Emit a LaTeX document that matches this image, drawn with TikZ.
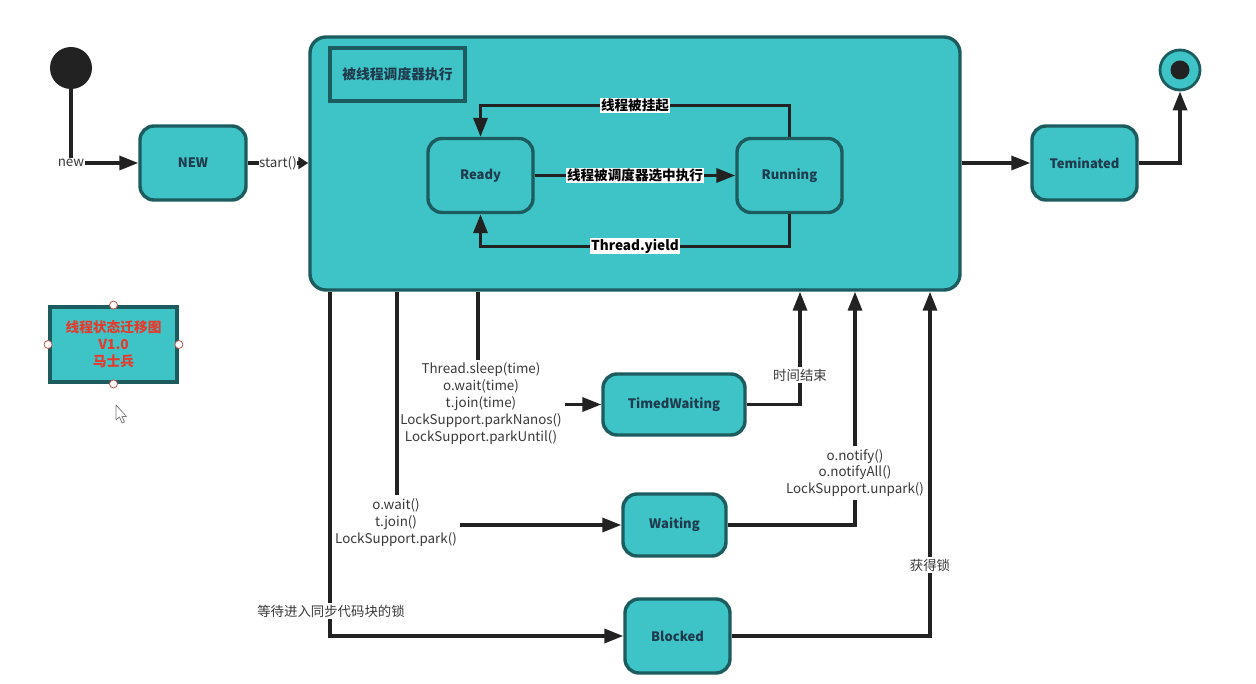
\documentclass[tikz,border=0pt]{standalone}
\usepackage{fontspec}
\setmainfont{Noto Sans CJK SC}
\usetikzlibrary{arrows.meta,calc}
\definecolor{teal1}{HTML}{3EC3C6}
\definecolor{tealb}{HTML}{1C5C5E}
\definecolor{ink}{HTML}{222222}
\definecolor{ntext}{HTML}{1E3A4C}
\definecolor{codec}{HTML}{3A3A3A}
\definecolor{legred}{HTML}{E63A2C}
\begin{document}
\begin{tikzpicture}[x=1pt,y=-1pt,
  state/.style={draw=tealb, fill=teal1, line width=3.4pt, rounded corners=14pt, text=ntext,
    font=\bfseries\fontsize{13}{15}\selectfont, minimum width=105pt, minimum height=74pt, inner sep=0pt},
  ln/.style={line width=3.3pt, draw=ink},
  arr/.style={line width=3.3pt, draw=ink, -{Triangle[length=19pt,width=14pt]}},
  lab/.style={fill=white, font=\bfseries\fontsize{13.6}{15}\selectfont, text=black, inner sep=1pt},
  code/.style={fill=white, font=\fontsize{13.4}{16.8}\selectfont, text=codec, align=center, inner sep=3pt}]
\useasboundingbox (0,0) rectangle (1256,684);
\fill[white] (0,0) rectangle (1256,684);

% start / end
\node[circle, fill=ink, minimum size=42pt, inner sep=0pt] (start) at (71,68) {};
\node[circle, draw=tealb, fill=teal1, line width=2.8pt, minimum size=40pt, inner sep=0pt] (end) at (1180,70) {};
\node[circle, fill=ink, minimum size=19pt, inner sep=0pt] (endin) at (1180,70) {};

% main nodes
\node[state, minimum width=106pt] (new) at (193,163) {NEW};
\node[draw=tealb, fill=teal1, line width=3.4pt, rounded corners=16pt, minimum width=650pt, minimum height=253pt] (big) at (635,163.5) {};
\node[draw=tealb, line width=3.4pt, minimum width=135pt, minimum height=53pt, text=ntext,
  font=\bfseries\fontsize{13.8}{15}\selectfont] (title) at (397.5,74.5) {被线程调度器执行};
\node[state] (ready) at (480.5,175.5) {Ready};
\node[state] (running) at (789.5,175.5) {Running};
\node[state] (term) at (1084.5,163) {Teminated};
\node[state, minimum width=142pt, minimum height=61pt] (tw) at (674,404.5) {TimedWaiting};
\node[state, minimum width=103pt, minimum height=62pt] (wt) at (674.5,525) {Waiting};
\node[state] (bl) at (677.5,636) {Blocked};

% legend
\node[draw=tealb, fill=teal1, line width=3.8pt, minimum width=127pt, minimum height=75pt, align=center,
  text=legred, font=\bfseries\fontsize{13.7}{17}\selectfont] (legend) at (113.5,344.5) {线程状态迁移图\\V1.0\\马士兵};
\foreach \a in {north,south,east,west}
  \draw[draw=legred!60!gray, fill=white, line width=0.8pt] (legend.\a) circle (4pt);
% cursor
\draw[fill=white, draw=gray, line width=0.8pt, line join=round]
  (116,405) -- (116,420) -- (119.5,417) -- (122,423) -- (124.5,422) -- (122,416.5) -- (126.5,416.5) -- cycle;

% start to NEW to big
\node[code, inner sep=1pt] (lnew) at (71,163) {new};
\node[code, inner sep=0.5pt] (lstart) at (278,163) {start()};
\draw[ln] (start) -- (lnew.north);
\draw[arr] (lnew.east) -- (new.west);
\draw[ln] (new.east) -- (lstart.west);
\draw[line width=3.3pt, draw=ink, -{Triangle[length=10pt,width=12pt]}] (lstart.east) -- (lstart.east -| big.west);

% big to terminated to end
\draw[arr] (big.east |- term) -- (term.west);
\draw[arr] (term.east) -| (end.south);

% inside
\draw[arr] (ready) -- node[lab]{线程被调度器选中执行} (running);
\draw[arr] (running.north) -- ++(0,-31) -| node[lab, pos=0.25]{线程被挂起} (ready.north);
\draw[arr] (running.south) -- ++(0,32) -| node[lab, pos=0.25]{Thread.yield} (ready.south);

% timed waiting
\node[code] (lsleep) at (481,403.5) {Thread.sleep(time)\\o.wait(time)\\t.join(time)\\LockSupport.parkNanos()\\LockSupport.parkUntil()};
\coordinate (x1) at (478,0);
\draw[ln] (big.south -| x1) -- (x1 |- lsleep.north);
\draw[arr] (lsleep.east |- tw) -- (tw.west);
\node[code, inner sep=2pt] (ltime) at (800,375) {时间结束};
\draw[ln] (tw.east) -| (ltime.south);
\draw[arr] (ltime.north) -- (big.south -| ltime);

% waiting
\node[code] (lwait) at (396,522.5) {o.wait()\\t.join()\\LockSupport.park()};
\coordinate (x2) at (397,0);
\draw[ln] (big.south -| x2) -- (x2 |- lwait.north);
\draw[arr] (lwait.east |- wt) -- (wt.west);
\node[code] (lnotify) at (855,473) {o.notify()\\o.notifyAll()\\LockSupport.unpark()};
\draw[ln] (wt.east) -| (lnotify.south);
\draw[arr] (lnotify.north) -- (big.south -| lnotify);

% blocked
\node[code, inner sep=2pt] (lsync) at (331,611) {等待进入同步代码块的锁};
\coordinate (x3) at (330,0);
\draw[ln] (big.south -| x3) -- (x3 |- lsync.north);
\draw[arr] (x3 |- lsync.south) |- (bl.west);
\node[code, inner sep=2pt] (lgot) at (930,565) {获得锁};
\draw[ln] (bl.east) -| (lgot.south);
\draw[arr] (lgot.north) -- (big.south -| lgot);
\end{tikzpicture}
\end{document}
